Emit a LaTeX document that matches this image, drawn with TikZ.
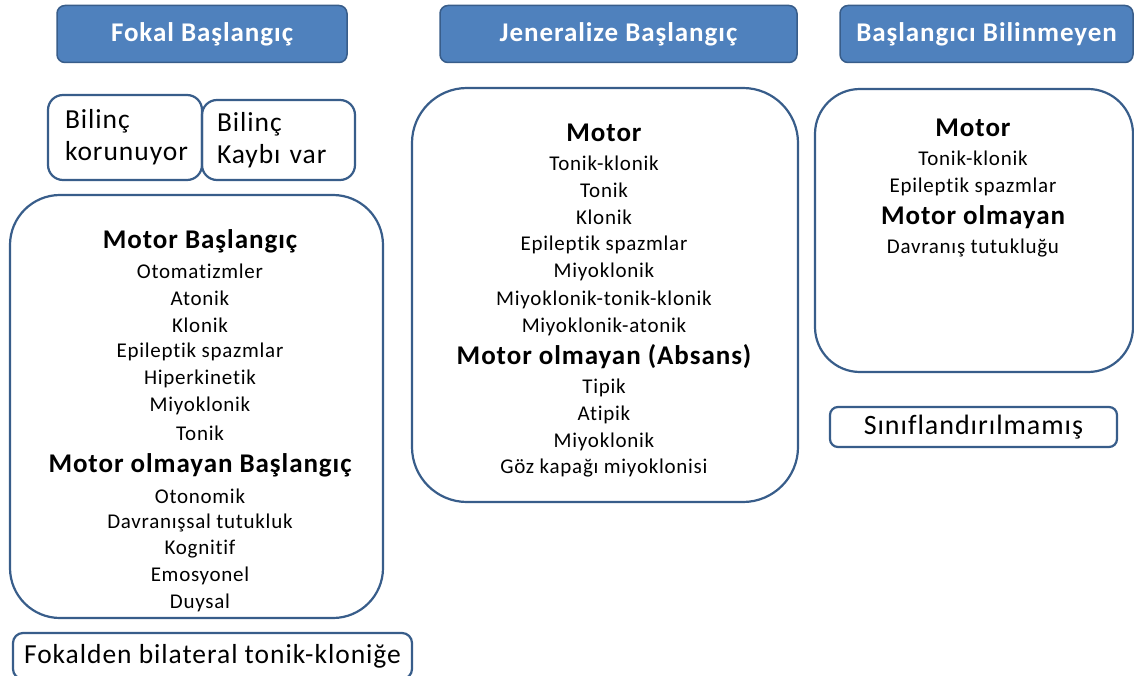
\documentclass[tikz,border=0pt]{standalone}
\usepackage{fontspec}
\setmainfont{Carlito}[Ligatures=NoCommon, LetterSpace=3.5]
\usetikzlibrary{positioning}
\definecolor{hdrblue}{RGB}{79,129,189}
\definecolor{edgeblue}{RGB}{56,93,138}

\begin{document}
\begin{tikzpicture}[x=1pt,y=-1pt,
  header/.style={draw=edgeblue, fill=hdrblue, line width=1.5pt, rounded corners=8pt,
                 text=white, font=\fontsize{27}{32}\selectfont\bfseries},
  group/.style={draw=edgeblue, line width=2.2pt, rounded corners=#1},
  note/.style={draw=edgeblue, line width=2.2pt, rounded corners=#1, align=left,
               font=\fontsize{27.5}{32}\selectfont},
  title/.style={font=\fontsize{27}{32}\selectfont\bfseries, inner sep=0pt},
  item/.style={font=\fontsize{21}{25}\selectfont, inner sep=0pt}
]
  \fill[white] (0,0) rectangle (1134,676);
  \useasboundingbox (0,0) rectangle (1134,676);

  % Headers
  \node[header, minimum width=290pt, minimum height=57pt] (focalhdr)   at (202,34)   {Fokal Başlangıç};
  \node[header, minimum width=357pt, minimum height=57pt] (generalhdr) at (618.5,34) {Jeneralize Başlangıç};
  \node[header, minimum width=293pt, minimum height=57pt] (unknownhdr) at (986.5,34) {Başlangıcı Bilinmeyen};

  % Awareness boxes
  \node[note=15pt, text width=120pt, inner xsep=17pt, minimum height=85pt] (aware)    at (125,137.5) {Bilinç\\korunuyor};
  \node[note=15pt, text width=123pt, inner xsep=15pt, minimum height=80pt] (impaired) at (278.5,140) {Bilinç\\Kaybı var};

  % Group boxes
  \node[group=50pt, minimum width=373pt, minimum height=423pt] (focalbox)   at (196.5,406.5) {};
  \node[group=55pt, minimum width=386pt, minimum height=414pt] (generalbox) at (605,295)     {};
  \node[group=45pt, minimum width=318pt, minimum height=283pt] (unknownbox) at (974,230.5)   {};

  % Focal onset
  \node[title] (focalmotor) at (200,241.5) {Motor Başlangıç};
  \foreach \t [count=\i from 0] in {Otomatizmler,Atonik,Klonik,Epileptik spazmlar,
                                    Hiperkinetik,Miyoklonik,Tonik}
    \node[item] (focalmotor-\i) at (200,{271.5+26.9*\i}) {\t};
  \node[title] (focalnonmotor) at (200,465) {Motor olmayan Başlangıç};
  \foreach \t [count=\i from 0] in {Otonomik,Davranışsal tutukluk,Kognitif,Emosyonel,Duysal}
    \node[item] (focalnonmotor-\i) at (200,{496+26.75*\i}) {\t};

  % Generalized onset
  \node[title] (generalmotor) at (604,133) {Motor};
  \foreach \t [count=\i from 0] in {Tonik-klonik,Tonik,Klonik,Epileptik spazmlar,Miyoklonik,
                                    Miyoklonik-tonik-klonik,Miyoklonik-atonik}
    \node[item] (generalmotor-\i) at (604,{163+27.3*\i}) {\t};
  \node[title] (generalnonmotor) at (604,357) {Motor olmayan (Absans)};
  \foreach \t [count=\i from 0] in {Tipik,Atipik,Miyoklonik,Göz kapağı miyoklonisi}
    \node[item] (generalnonmotor-\i) at (604,{388+26.7*\i}) {\t};

  % Unknown onset
  \node[title] (unknownmotor) at (973,128) {Motor};
  \node[item] (unknownmotor-0) at (973,158) {Tonik-klonik};
  \node[item] (unknownmotor-1) at (973,186.7) {Epileptik spazmlar};
  \node[title] (unknownnonmotor) at (973,217) {Motor olmayan};
  \node[item] (unknownnonmotor-0) at (973,248) {Davranış tutukluğu};

  % Bottom boxes
  \node[note=8pt, minimum width=287pt, minimum height=40pt, align=center,
        font=\fontsize{28}{32}\selectfont] (unclassified) at (973.5,427) {Sınıflandırılmamış};
  \node[note=10pt, minimum width=399pt, minimum height=46pt, align=center,
        font=\fontsize{27.5}{32}\selectfont] (bilateral) at (212.5,656) {Fokalden bilateral tonik-kloniğe};
\end{tikzpicture}
\end{document}
